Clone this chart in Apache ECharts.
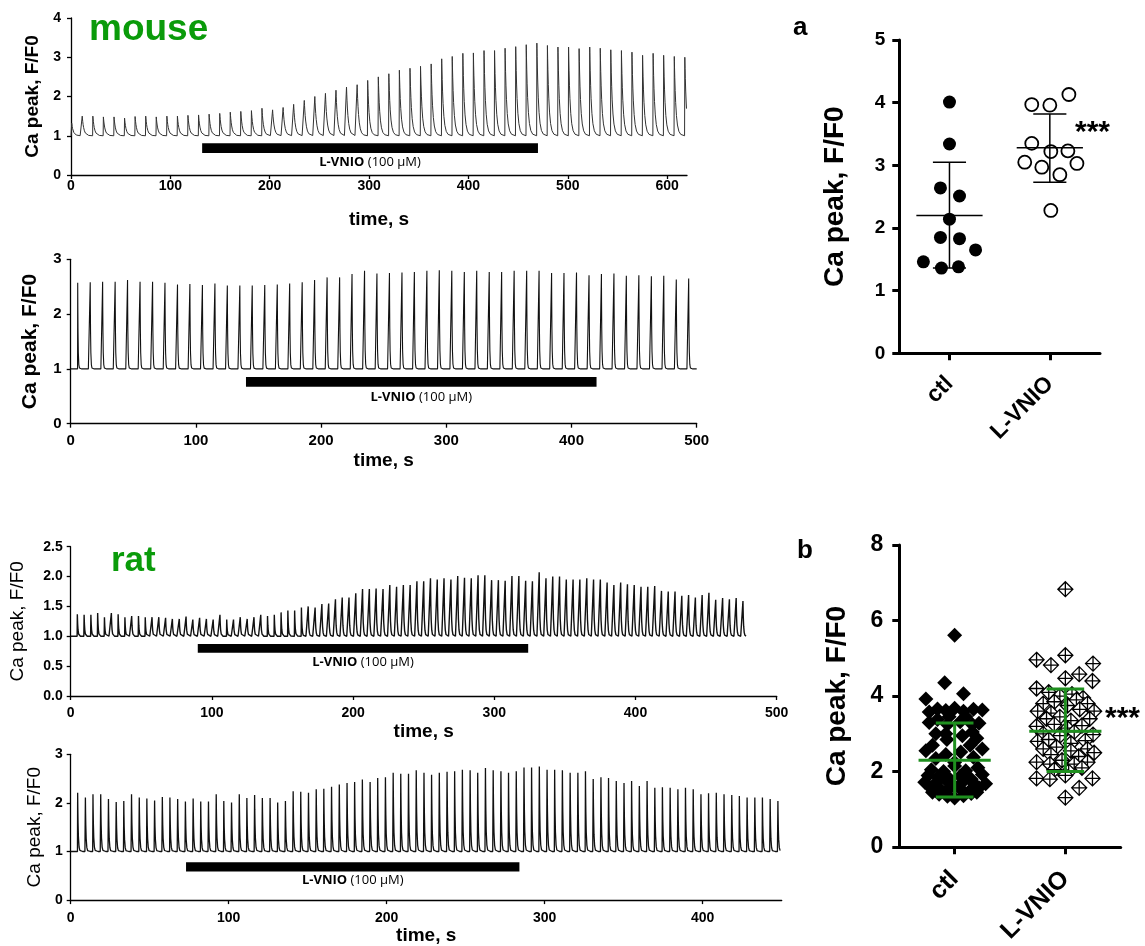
<!DOCTYPE html>
<html><head><meta charset="utf-8">
<script src="https://cdn.jsdelivr.net/npm/echarts@6/dist/echarts.min.js"></script>
<style>html,body{margin:0;padding:0;background:#fff}#c{width:1145px;height:946px}</style>
</head><body><div id="c"></div>
<script>
// ---------- DATA ----------
const mouseTopTimes = [0.7,11.3,22.0,32.6,43.3,53.9,64.5,75.2,85.8,96.5,107.1,117.7,128.4,139.0,149.7,160.3,170.9,181.6,192.2,202.9,213.5,224.1,234.8,245.4,256.1,266.7,277.3,288.0,298.6,309.3,319.9,330.5,341.2,351.8,362.5,373.1,383.7,394.4,405.0,415.7,426.3,436.9,447.6,458.2,468.9,479.5,490.1,500.8,511.4,522.1,532.7,543.3,554.0,564.6,575.3,585.9,596.5,607.2,617.8];
const mouseTopPeaks = [1.32,1.5,1.5,1.48,1.48,1.45,1.49,1.5,1.48,1.5,1.5,1.52,1.53,1.55,1.57,1.6,1.62,1.64,1.7,1.66,1.72,1.8,1.9,2.0,2.08,2.16,2.24,2.3,2.41,2.5,2.58,2.67,2.72,2.77,2.83,2.96,3.02,3.10,3.11,3.17,3.17,3.23,3.27,3.32,3.36,3.30,3.26,3.26,3.22,3.26,3.23,3.19,3.17,3.13,3.05,3.10,3.05,3.02,3.0];
const mouseBotTimes = [5.6,15.6,25.5,35.5,45.4,55.4,65.4,75.3,85.3,95.2,105.2,115.2,125.1,135.1,145.0,155.0,165.0,174.9,184.9,194.8,204.8,214.8,224.7,234.7,244.6,254.6,264.6,274.5,284.5,294.4,304.4,314.4,324.3,334.3,344.2,354.2,364.2,374.1,384.1,394.0,404.0,414.0,423.9,433.9,443.8,453.8,463.8,473.7,483.7,493.6];
const mouseBotPeaks = [2.57,2.58,2.59,2.59,2.62,2.59,2.59,2.57,2.54,2.55,2.53,2.56,2.52,2.52,2.52,2.53,2.54,2.56,2.58,2.62,2.67,2.67,2.73,2.79,2.74,2.75,2.76,2.77,2.79,2.80,2.79,2.77,2.79,2.77,2.77,2.79,2.79,2.79,2.75,2.75,2.76,2.71,2.73,2.74,2.70,2.71,2.69,2.70,2.63,2.65];
const ratTopTimes = [4.7,9.5,14.3,19.1,23.9,28.8,33.6,38.4,43.2,48.0,52.8,57.6,62.4,67.2,72.0,76.9,81.7,86.5,91.3,96.1,100.9,105.7,110.5,115.3,120.1,125.0,129.8,134.6,139.4,144.2,149.0,153.8,158.6,163.4,168.2,173.1,177.9,182.7,187.5,192.3,197.1,201.9,206.7,211.5,216.3,221.2,226.0,230.8,235.6,240.4,245.2,250.0,254.8,259.6,264.4,269.3,274.1,278.9,283.7,288.5,293.3,298.1,302.9,307.7,312.5,317.4,322.2,327.0,331.8,336.6,341.4,346.2,351.0,355.8,360.6,365.5,370.3,375.1,379.9,384.7,389.5,394.3,399.1,403.9,408.7,413.6,418.4,423.2,428.0,432.8,437.6,442.4,447.2,452.0,456.8,461.7,466.5,471.3,476.1];
const ratTopPeaks = [1.37,1.36,1.36,1.39,1.32,1.39,1.37,1.32,1.34,1.34,1.32,1.32,1.32,1.31,1.29,1.29,1.33,1.28,1.31,1.29,1.28,1.36,1.28,1.28,1.32,1.29,1.32,1.36,1.34,1.36,1.4,1.43,1.43,1.48,1.50,1.48,1.54,1.55,1.62,1.65,1.65,1.72,1.79,1.79,1.80,1.79,1.86,
 1.83,1.86,1.86,1.92,1.92,1.97,1.95,1.97,1.95,2.01,1.98,1.97,2.02,2.02,1.94,1.94,1.93,2.01,2.01,1.93,1.92,2.07,1.97,2.0,2.0,1.95,1.95,1.95,1.97,1.95,1.95,1.90,1.86,1.90,1.87,1.86,1.83,1.83,1.84,1.76,1.75,1.75,1.68,1.69,1.65,1.69,1.73,1.61,1.64,1.62,1.64,1.59];
const ratBotTimes = [4.4,9.3,14.1,19.0,23.9,28.8,33.6,38.5,43.4,48.2,53.1,58.0,62.8,67.7,72.6,77.5,82.3,87.2,92.1,96.9,101.8,106.7,111.5,116.4,121.3,126.2,131.0,135.9,140.8,145.6,150.5,155.4,160.2,165.1,170.0,174.9,179.7,184.6,189.5,194.3,199.2,204.1,208.9,213.8,218.7,223.6,228.4,233.3,238.2,243.0,247.9,252.8,257.6,262.5,267.4,272.3,277.1,282.0,286.9,291.7,296.6,301.5,306.3,311.2,316.1,321.0,325.8,330.7,335.6,340.4,345.3,350.2,355.0,359.9,364.8,369.7,374.5,379.4,384.3,389.1,394.0,398.9,403.7,408.6,413.5,418.4,423.2,428.1,433.0,437.8,442.7,447.6];
const ratBotPeaks = [2.21,2.11,2.18,2.18,2.08,2.02,2.04,2.18,2.11,2.09,2.05,2.12,2.11,2.08,2.03,2.09,2.03,2.03,2.18,2.04,2.01,2.18,2.10,2.16,2.10,2.10,2.01,2.04,2.24,2.23,2.21,2.28,2.29,2.33,2.38,2.41,2.43,2.48,2.43,2.51,2.53,2.62,
 2.60,2.60,2.67,2.62,2.58,2.62,2.64,2.65,2.68,2.67,2.62,2.72,2.67,2.65,2.62,2.65,2.73,2.73,2.75,2.68,2.68,2.67,2.62,2.62,2.65,2.49,2.53,2.51,2.45,2.41,2.45,2.35,2.45,2.31,2.32,2.31,2.28,2.31,2.28,2.18,2.20,2.21,2.18,2.16,2.14,2.11,2.11,2.11,2.08,2.04];

// drug application bars: [start, end] in s, and [bottom, top] in F/F0
const mouseTopBar = [132, 470], mouseTopBarY = [0.56, 0.81];
const mouseBotBar = [140, 420], mouseBotBarY = [0.675, 0.85];
const ratTopBar = [90, 324], ratTopBarY = [0.725, 0.87];
const ratBotBar = [73, 284], ratBotBarY = [0.59, 0.78];

// scatter panels
const groups = ['ctl', 'L-VNIO'];
const ctlA = [4.01,3.34,2.64,2.51,2.14,1.85,1.83,1.65,1.46,1.36,1.38];
const ctlAJit = [0,0,-0.09,0.10,0,-0.09,0.10,0.26,-0.26,-0.08,0.09];
const vnioA = [3.97,3.96,4.13,3.35,3.22,3.23,3.05,2.97,3.03,2.85,2.28];
const vnioAJit = [-0.18,0,0.19,-0.18,0.01,0.18,-0.25,-0.08,0.27,0.10,0.01];
const meanA = [2.2, 3.28], sdLowA = [1.36, 2.73], sdHighA = [3.05, 3.82];

const ctlB = [5.61,4.35,4.06,3.92,3.66,3.62,3.68,3.60,3.65,3.63,3.58,3.30,3.38,3.25,3.32,3.25,3.28,3.00,3.00,2.95,3.05,2.85,2.88,2.55,2.45,2.52,2.60,2.35,2.38,2.05,2.00,2.02,2.10,2.15,1.85,1.82,1.88,1.80,1.72,1.70,1.75,1.72,1.70,1.68,1.55,1.52,1.58,1.55,1.50,1.57,1.40,1.35,1.30,1.36,1.42,1.45,1.45,1.60,1.90,1.92,2.25,2.70,2.70,3.45,3.45];
const ctlBJit = [0,-0.09,0.08,-0.26,-0.155,-0.08,0,0.08,0.17,0.25,-0.23,-0.23,-0.155,-0.065,0.05,0.16,0.22,-0.17,-0.08,0.07,0.16,-0.07,0.2,-0.26,-0.08,0.055,0.25,-0.17,0.17,-0.21,-0.10,0.10,0.21,0,-0.15,-0.05,0.05,0.15,-0.27,-0.17,-0.07,0.07,0.17,0.28,-0.21,-0.125,-0.04,0.05,0.14,0.22,-0.14,-0.065,0,0.08,0.15,-0.2,0.2,0,-0.24,0.25,0,-0.2,0.14,-0.05,0.1];
const vnioB = [6.83,4.96,4.82,5.08,4.86,4.58,4.47,4.40,4.20,4.10,4.00,4.05,3.95,3.80,3.85,3.75,3.90,3.80,3.60,3.55,3.65,3.60,3.40,3.45,3.35,3.40,3.20,3.25,3.15,3.22,3.00,2.95,3.05,2.98,2.80,2.85,2.75,2.82,2.60,2.65,2.55,2.60,2.45,2.40,2.50,2.25,2.20,2.30,2.20,2.25,2.05,2.00,2.10,1.82,1.80,1.90,1.82,1.57,1.31];
const vnioBJit = [0,-0.26,-0.13,0,0.25,0.125,0,0.245,-0.26,-0.15,-0.05,0.06,0.16,-0.20,-0.10,0.02,0.10,0.20,-0.25,-0.13,0.13,0.26,-0.17,-0.05,0.05,0.22,-0.26,-0.10,0.02,0.15,-0.20,-0.05,0.08,0.25,-0.25,-0.15,0.05,0.18,-0.20,-0.08,0.05,0.20,-0.13,0.12,0.26,-0.26,-0.14,-0.03,0.08,0.20,-0.10,0.03,0.15,-0.26,-0.14,0,0.245,0.125,0];
const meanB = [2.3, 3.07], sdLowB = [1.33, 2.0], sdHighB = [3.29, 4.19];

// ---------- BUILD ----------
const FONT = '"Liberation Sans", Arial, sans-serif';
const GREEN = '#0a9b0a';

function buildTrace(times, peaks, base, rise, tau, tEnd) {
  const offs = [0.1, 0.25, 0.5, 0.9, 1.4, 2.2, 3.2, 4.6, 6.5, 8.5];
  const pts = [[0, base]];
  for (let i = 0; i < times.length; i++) {
    const t = times[i], p = peaks[i];
    const next = i + 1 < times.length ? times[i + 1] : tEnd + rise;
    if (t - rise > 0) pts.push([t - rise, base]);
    pts.push([t, p]);
    for (const d of offs) {
      if (t + d < next - rise && t + d <= tEnd) pts.push([t + d, base + (p - base) * Math.exp(-d / tau)]);
    }
  }
  const lt = times[times.length - 1], lp = peaks[peaks.length - 1];
  pts.push([tEnd, base + (lp - base) * Math.exp(-(tEnd - lt) / tau)]);
  return pts;
}

function xTrace(gi, max, o) {
  return {type: 'value', gridIndex: gi, min: 0, max: max, interval: 100,
    axisLine: {show: true, onZero: false, lineStyle: {color: '#000', width: 1.3}},
    axisTick: {show: true, length: 4, lineStyle: {color: '#000', width: 1.3}},
    axisLabel: {color: '#000', fontFamily: FONT, fontWeight: 'bold', fontSize: o.fs, margin: o.margin, showMaxLabel: o.showMax},
    splitLine: {show: false},
    name: 'time, s', nameLocation: 'middle', nameGap: o.gap,
    nameTextStyle: {color: '#000', fontFamily: FONT, fontWeight: 'bold', fontSize: o.nfs}};
}
function yTrace(gi, max, interval, o) {
  return {type: 'value', gridIndex: gi, min: 0, max: max, interval: interval,
    axisLine: {show: true, onZero: false, lineStyle: {color: '#000', width: 1.3}},
    axisTick: {show: true, length: 4, lineStyle: {color: '#000', width: 1.3}},
    axisLabel: {color: '#000', fontFamily: FONT, fontWeight: 'bold', fontSize: o.fs, margin: o.margin,
      formatter: o.fmt || (v => String(v))},
    splitLine: {show: false},
    name: 'Ca peak, F/F0', nameLocation: 'middle', nameGap: o.gap,
    nameTextStyle: {color: '#000', fontFamily: FONT, fontWeight: o.weight, fontSize: o.nfs}};
}
function traceSeries(gi, data, color, width, bar, barY, labDist) {
  return {type: 'line', xAxisIndex: gi, yAxisIndex: gi, data: data, showSymbol: false, symbol: 'none',
    lineStyle: {color: color, width: width}, silent: true, animation: false,
    markArea: {silent: true, itemStyle: {color: '#000'},
      label: {show: true, position: 'bottom', distance: labDist, color: '#000', fontFamily: '"Open Sans", sans-serif', fontSize: 13,
        formatter: '{b|L-VNIO} (100 µM)',
        rich: {b: {fontWeight: 'bold', fontFamily: '"Open Sans", sans-serif', fontSize: 13, color: '#000'}}},
      data: [[{coord: [bar[0], barY[0]]}, {coord: [bar[1], barY[1]]}]]}};
}

function catAxis(gi, fs, margin) {
  return {type: 'category', gridIndex: gi, data: groups, boundaryGap: true,
    axisLine: {show: true, onZero: false, lineStyle: {color: '#000', width: 3}},
    axisTick: {show: true, alignWithLabel: true, length: 7, lineStyle: {color: '#000', width: 3}},
    axisLabel: {rotate: 45, color: '#000', fontFamily: FONT, fontWeight: 'bold', fontSize: fs, margin: margin}};
}
function hidAxis(gi) { return {type: 'value', gridIndex: gi, min: -0.5, max: 1.5, show: false, axisLine: {onZero: false}}; }
function yScat(gi, max, interval, fs, margin, gap) {
  return {type: 'value', gridIndex: gi, min: 0, max: max, interval: interval,
    axisLine: {show: true, onZero: false, lineStyle: {color: '#000', width: 3}},
    axisTick: {show: true, length: 7, lineStyle: {color: '#000', width: 3}},
    axisLabel: {color: '#000', fontFamily: FONT, fontWeight: 'bold', fontSize: fs, margin: margin},
    splitLine: {show: false},
    name: 'Ca peak, F/F0', nameLocation: 'middle', nameGap: gap,
    nameTextStyle: {color: '#000', fontFamily: FONT, fontWeight: 'bold', fontSize: 28}};
}
function errSeries(xi, yi, mean, lo, hi, color, lw, halfMean, halfCap) {
  return {type: 'custom', xAxisIndex: xi, yAxisIndex: yi, silent: true, animation: false, z: 5,
    data: mean.map((m, i) => [i, m, lo[i], hi[i]]),
    renderItem: function (params, api) {
      const x = api.value(0);
      const pm = api.coord([x, api.value(1)]), pl = api.coord([x, api.value(2)]), ph = api.coord([x, api.value(3)]);
      const u = api.size([1, 0])[0];
      const st = {stroke: color, lineWidth: lw};
      return {type: 'group', children: [
        {type: 'line', shape: {x1: pm[0] - u * halfMean, y1: pm[1], x2: pm[0] + u * halfMean, y2: pm[1]}, style: st},
        {type: 'line', shape: {x1: pl[0], y1: pl[1], x2: ph[0], y2: ph[1]}, style: st},
        {type: 'line', shape: {x1: pl[0] - u * halfCap, y1: pl[1], x2: pl[0] + u * halfCap, y2: pl[1]}, style: st},
        {type: 'line', shape: {x1: ph[0] - u * halfCap, y1: ph[1], x2: ph[0] + u * halfCap, y2: ph[1]}, style: st}
      ]};
    }};
}
const pts = (vals, jit, g) => vals.map((v, i) => [g + jit[i], v]);

const option = {
  backgroundColor: '#fff',
  animation: false,
  grid: [
    {left: 71, top: 18, width: 616, height: 157},
    {left: 70.7, top: 259.3, width: 626, height: 164.4},
    {left: 70.7, top: 546.7, width: 706, height: 149.3},
    {left: 70.7, top: 754.3, width: 711, height: 148},
    {left: 899.3, top: 40, width: 200.7, height: 313.3},
    {left: 899.3, top: 545, width: 221.4, height: 304.3}
  ],
  xAxis: [
    xTrace(0, 620, {fs: 14, margin: 4, gap: 35, nfs: 19, showMax: false}),
    xTrace(1, 500, {fs: 15, margin: 10, gap: 28, nfs: 19}),
    xTrace(2, 500, {fs: 14, margin: 10, gap: 26, nfs: 19}),
    xTrace(3, 450, {fs: 14, margin: 11, gap: 25, nfs: 19, showMax: false}),
    catAxis(4, 23, 27), hidAxis(4),
    catAxis(5, 25, 28), hidAxis(5)
  ],
  yAxis: [
    yTrace(0, 4, 1, {fs: 14, margin: 10, gap: 28, weight: 'bold', nfs: 19}),
    yTrace(1, 3, 1, {fs: 15, margin: 9, gap: 30, weight: 'bold', nfs: 21}),
    yTrace(2, 2.5, 0.5, {fs: 14, margin: 8, gap: 43, weight: 'normal', nfs: 19, fmt: v => v.toFixed(1)}),
    yTrace(3, 3, 1, {fs: 14, margin: 8, gap: 26, weight: 'normal', nfs: 19}),
    yScat(4, 5, 1, 19, 14, 50),
    yScat(5, 8, 2, 23, 16, 48)
  ],
  series: [
    traceSeries(0, buildTrace(mouseTopTimes, mouseTopPeaks, 1.0, 0.25, 1.6, 619.5), '#333', 1, mouseTopBar, mouseTopBarY, 3),
    traceSeries(1, buildTrace(mouseBotTimes, mouseBotPeaks, 1.0, 0.12, 0.3, 500), '#111', 1.1, mouseBotBar, mouseBotBarY, 4),
    traceSeries(2, buildTrace(ratTopTimes, ratTopPeaks, 1.0, 0.15, 0.4, 478.5), '#111', 1.4, ratTopBar, ratTopBarY, 3),
    traceSeries(3, buildTrace(ratBotTimes, ratBotPeaks, 1.0, 0.12, 0.35, 449), '#111', 1.3, ratBotBar, ratBotBarY, 2),
    {type: 'scatter', xAxisIndex: 5, yAxisIndex: 4, data: pts(ctlA, ctlAJit, 0), symbol: 'circle', symbolSize: 13,
      itemStyle: {color: '#000', opacity: 1}, silent: true},
    {type: 'scatter', xAxisIndex: 5, yAxisIndex: 4, data: pts(vnioA, vnioAJit, 1), symbol: 'circle', symbolSize: 13,
      itemStyle: {color: '#fff', borderColor: '#000', borderWidth: 1.8, opacity: 1}, silent: true},
    errSeries(5, 4, meanA, sdLowA, sdHighA, '#000', 1.5, 0.33, 0.165),
    {type: 'scatter', xAxisIndex: 7, yAxisIndex: 5, data: pts(ctlB, ctlBJit, 0), symbol: 'diamond', symbolSize: 15,
      itemStyle: {color: '#000', opacity: 1}, silent: true},
    {type: 'scatter', xAxisIndex: 7, yAxisIndex: 5, data: pts(vnioB, vnioBJit, 1),
      symbol: 'path://M10,0L20,10L10,20L0,10Z M10,0L10,20 M0,10L20,10', symbolSize: 15,
      itemStyle: {color: '#fff', borderColor: '#000', borderWidth: 1.3, opacity: 1}, silent: true},
    errSeries(7, 5, meanB, sdLowB, sdHighB, '#1f8f1f', 3, 0.326, 0.17)
  ],
  graphic: [
    {type: 'text', x: 89, y: 30, silent: true, style: {text: 'mouse', font: 'bold 37px ' + FONT, fill: GREEN, verticalAlign: 'middle'}},
    {type: 'text', x: 111, y: 561, silent: true, style: {text: 'rat', font: 'bold 35px ' + FONT, fill: GREEN, verticalAlign: 'middle'}},
    {type: 'text', x: 793, y: 28, silent: true, style: {text: 'a', font: 'bold 26px ' + FONT, fill: '#000', verticalAlign: 'middle'}},
    {type: 'text', x: 797, y: 551, silent: true, style: {text: 'b', font: 'bold 26px ' + FONT, fill: '#000', verticalAlign: 'middle'}},
    {type: 'text', x: 1075, y: 133, silent: true, style: {text: '***', font: 'bold 30px ' + FONT, fill: '#000', verticalAlign: 'middle'}},
    {type: 'text', x: 1105, y: 719, silent: true, style: {text: '***', font: 'bold 30px ' + FONT, fill: '#000', verticalAlign: 'middle'}}
  ]
};
const chart = echarts.init(document.getElementById('c'), null, {renderer: 'canvas'});
chart.setOption(option);
</script></body></html>
